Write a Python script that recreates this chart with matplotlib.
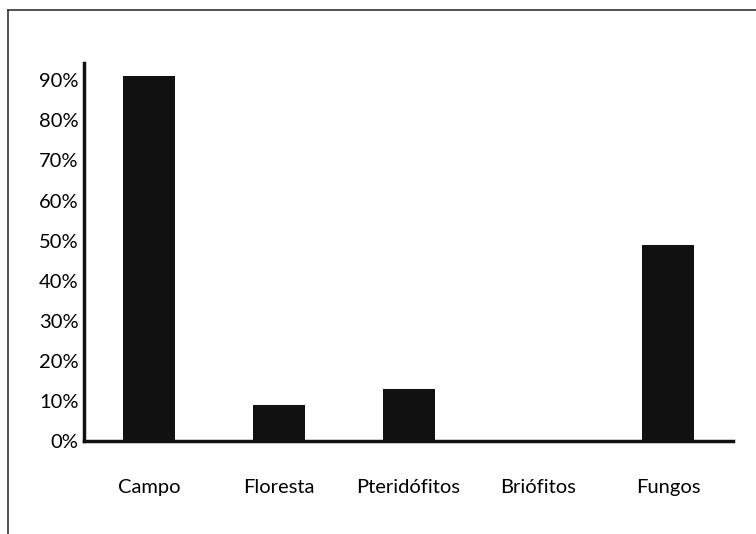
import numpy as np
import matplotlib.pyplot as plt
from matplotlib.ticker import PercentFormatter
from matplotlib.lines import Line2D

plt.rcParams['font.family'] = ['Lato', 'DejaVu Sans']

categorias = ['Campo', 'Floresta', 'Pteridófitos', 'Briófitos', 'Fungos']
valores = [0.91, 0.09, 0.13, 0.0, 0.49]
ticks_y = [0.0, 0.1, 0.2, 0.3, 0.4, 0.5, 0.6, 0.7, 0.8, 0.9]


def main():
    fig = plt.figure(figsize=(7.56, 5.34), dpi=100)
    ax = fig.add_axes([0.111, 0.174, 0.859, 0.708])

    x = np.arange(len(categorias))
    ax.bar(x, valores, width=0.4, color='#111111')

    ax.set_xlim(-0.5, 4.5)
    ax.set_ylim(0, 0.943)
    ax.set_xticks(x)
    ax.set_xticklabels(categorias)
    ax.set_yticks(ticks_y)
    ax.yaxis.set_major_formatter(PercentFormatter(1.0, decimals=0))
    ax.tick_params(axis='x', length=0, pad=27, labelsize=14.5)
    ax.tick_params(axis='y', length=0, pad=4, labelsize=14.5)

    for lado in ['top', 'right']:
        ax.spines[lado].set_visible(False)
    for lado in ['left', 'bottom']:
        ax.spines[lado].set_linewidth(2.5)
        ax.spines[lado].set_color('#111111')

    # moldura (linha superior e esquerda)
    fig.add_artist(Line2D([8 / 756, 1], [1 - 10 / 534, 1 - 10 / 534],
                          transform=fig.transFigure, color='#333333', lw=1.2))
    fig.add_artist(Line2D([8 / 756, 8 / 756], [0, 1 - 10 / 534],
                          transform=fig.transFigure, color='#333333', lw=1.2))

    fig.savefig('out.png', dpi=100)


if __name__ == "__main__":
    main()
